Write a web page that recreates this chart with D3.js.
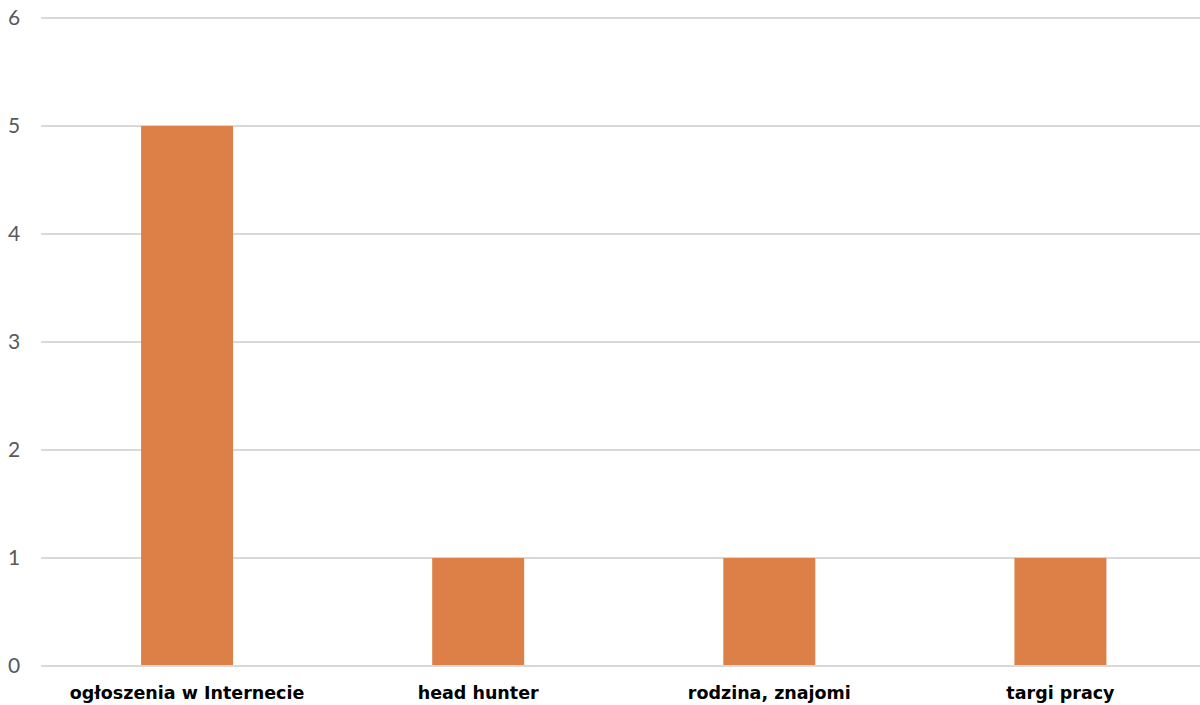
<!DOCTYPE html>
<html><head><meta charset="utf-8">
<script src="https://cdn.jsdelivr.net/npm/d3@7"></script>
<style>body{margin:0;background:#fff}</style>
</head><body>
<svg id="c" width="1200" height="705"></svg>
<script>
const categories = ["ogłoszenia w Internecie", "head hunter", "rodzina, znajomi", "targi pracy"];
const values = [5, 1, 1, 1];
const yTicks = [0, 1, 2, 3, 4, 5, 6];

const svg = d3.select("#c");
const x = d3.scaleBand().domain(categories).range([41.5, 1206]).paddingInner(0.684).paddingOuter(0.342);
const y = d3.scaleLinear().domain([0, 6]).range([666, 18]);

svg.append("g").selectAll("line").data(yTicks).join("line")
  .attr("x1", 41).attr("x2", 1200)
  .attr("y1", d => y(d)).attr("y2", d => y(d))
  .attr("stroke", "#d9d9d9").attr("stroke-width", 2);

svg.append("g").selectAll("text").data(yTicks).join("text")
  .attr("x", 14).attr("y", d => y(d)).attr("dy", "0.35em")
  .attr("text-anchor", "middle")
  .attr("font-family", "Lato, 'Open Sans', sans-serif").attr("font-size", 21)
  .attr("fill", "#595959").text(d => d);

svg.append("g").selectAll("rect").data(values).join("rect")
  .attr("x", (d, i) => x(categories[i]))
  .attr("width", x.bandwidth())
  .attr("y", d => y(d))
  .attr("height", d => y(0) - y(d) - 1)
  .attr("fill", "#dd8047");

svg.append("g").selectAll("text").data(categories).join("text")
  .attr("x", d => x(d) + x.bandwidth() / 2).attr("y", 699)
  .attr("text-anchor", "middle")
  .attr("font-family", "'DejaVu Sans', sans-serif").attr("font-weight", "bold").attr("font-size", 17.5)
  .attr("fill", "#000").text(d => d);
</script>
</body></html>
